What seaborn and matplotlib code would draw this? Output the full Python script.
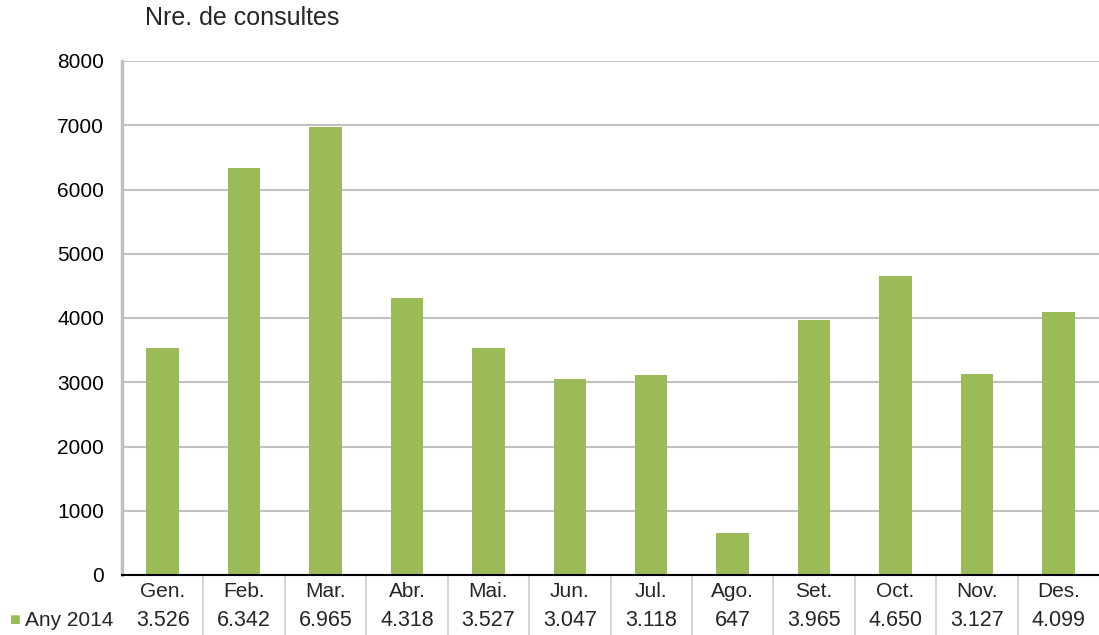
import matplotlib
matplotlib.use("Agg")
import matplotlib.pyplot as plt
import matplotlib.transforms as mtransforms
import seaborn as sns
import pandas as pd

# data
months = ["Gen.", "Feb.", "Mar.", "Abr.", "Mai.", "Jun.", "Jul.", "Ago.", "Set.", "Oct.", "Nov.", "Des."]
consultes = [3526, 6342, 6965, 4318, 3527, 3047, 3118, 647, 3965, 4650, 3127, 4099]
series_name = "Any 2014"
yticks = [0, 1000, 2000, 3000, 4000, 5000, 6000, 7000, 8000]

green = "#9BBB59"
grid_gray = "#C0C0C0"
fs = 15

sns.set_style("white")
plt.rcParams['font.family'] = ['Liberation Sans', 'DejaVu Sans']

df = pd.DataFrame({"mes": months, "consultes": consultes})

fig = plt.figure(figsize=(10.99, 6.35), dpi=100)
W, H = 1099, 635
ax = fig.add_axes([122 / W, 1 - 575 / H, (1099 - 122) / W, (575 - 61) / H])

sns.barplot(data=df, x="mes", y="consultes", color=green, width=0.4,
            saturation=1, linewidth=0, ax=ax, zorder=3)

ax.set_ylim(0, 8000)
ax.set_xlim(-0.5, len(months) - 0.5)
ax.set_yticks(yticks)
ax.set_yticklabels([str(t) for t in yticks], fontsize=fs)
ax.yaxis.grid(True, color=grid_gray, linewidth=1.5, zorder=0)
ax.set_xlabel("")
ax.set_ylabel("")

# spines
for s in ["top", "right"]:
    ax.spines[s].set_visible(False)
ax.spines["left"].set_color(grid_gray)
ax.spines["left"].set_linewidth(2.5)
ax.spines["bottom"].set_color("black")
ax.spines["bottom"].set_linewidth(1.5)
ax.spines["bottom"].set_zorder(4)
ax.tick_params(axis="y", direction="out", length=7, width=1.5, color=grid_gray,
               pad=6, labelcolor="black")

# month labels as x ticks (data table header row)
ax.set_xticks(range(len(months)))
ax.set_xticklabels(months, fontsize=fs)
ax.tick_params(axis="x", length=0, pad=5)

# data table
trans = mtransforms.blended_transform_factory(ax.transData, ax.transAxes)
row_y = -46 / 514
for i, v in enumerate(consultes):
    ax.text(i, row_y, f"{v:,}".replace(",", "."), transform=trans,
            ha="center", va="center", fontsize=15.5)
for i in range(len(months) - 1):
    ax.plot([i + 0.5, i + 0.5], [0, -60 / 514], transform=trans, color="#D0D0D0",
            linewidth=1.2, clip_on=False)

# legend key in table
fig.text(10 / W, 1 - 621 / H, "\u25A0", color=green, fontsize=13, va="center", ha="left")
fig.text(25 / W, 1 - 621 / H, series_name, fontsize=fs, va="center", ha="left")

# title
fig.text(145 / W, 1 - 18 / H, "Nre. de consultes", fontsize=18, va="center", ha="left")

fig.savefig("out.png", dpi=100)
